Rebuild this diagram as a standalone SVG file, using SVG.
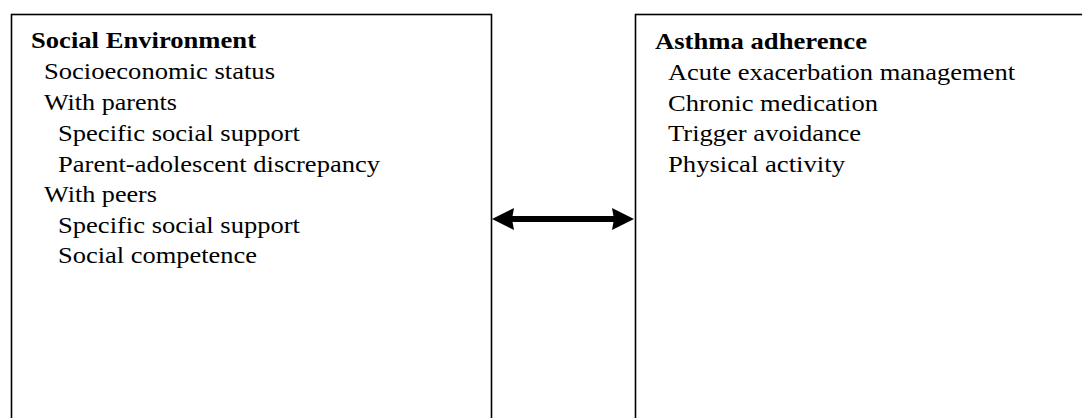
<svg xmlns="http://www.w3.org/2000/svg" width="1082" height="418" viewBox="0 0 1082 418">
<style>
.box{fill:#fff;stroke:#000;stroke-width:1.6}
text{font-family:"Liberation Serif","Times New Roman",serif;font-size:24px;fill:#000}
.h{font-weight:bold}
.conn{stroke:#000;stroke-width:6;fill:none}
</style>
<defs>
<marker id="ah" viewBox="0 0 22 22" refX="14" refY="11" markerWidth="22" markerHeight="22" markerUnits="userSpaceOnUse" orient="auto-start-reverse">
<path d="M0,0 L22,11 L0,22 L2,11 Z" fill="#000"/>
</marker>
</defs>
<rect width="1082" height="418" fill="#fff"/>
<g id="social-environment">
<rect class="box" x="11.5" y="14.5" width="480" height="420"/>
<text class="h" x="31" y="48" textLength="225" lengthAdjust="spacingAndGlyphs">Social Environment</text>
<text x="44" y="79" textLength="231" lengthAdjust="spacingAndGlyphs">Socioeconomic status</text>
<text x="44" y="110" textLength="133" lengthAdjust="spacingAndGlyphs">With parents</text>
<text x="58" y="141" textLength="242" lengthAdjust="spacingAndGlyphs">Specific social support</text>
<text x="58" y="171.5" textLength="322" lengthAdjust="spacingAndGlyphs">Parent-adolescent discrepancy</text>
<text x="44" y="202" textLength="113" lengthAdjust="spacingAndGlyphs">With peers</text>
<text x="58" y="232.5" textLength="242" lengthAdjust="spacingAndGlyphs">Specific social support</text>
<text x="58" y="263" textLength="199" lengthAdjust="spacingAndGlyphs">Social competence</text>
</g>
<g id="asthma-adherence">
<rect class="box" x="635.5" y="14.5" width="480" height="420"/>
<text class="h" x="655" y="49" textLength="212" lengthAdjust="spacingAndGlyphs">Asthma adherence</text>
<text x="668" y="80" textLength="347" lengthAdjust="spacingAndGlyphs">Acute exacerbation management</text>
<text x="668" y="110.5" textLength="210" lengthAdjust="spacingAndGlyphs">Chronic medication</text>
<text x="668" y="141" textLength="193" lengthAdjust="spacingAndGlyphs">Trigger avoidance</text>
<text x="668" y="171.5" textLength="177" lengthAdjust="spacingAndGlyphs">Physical activity</text>
</g>
<g id="connectors">
<line class="conn" x1="500" y1="219" x2="626" y2="219" marker-start="url(#ah)" marker-end="url(#ah)"/>
</g>
</svg>
